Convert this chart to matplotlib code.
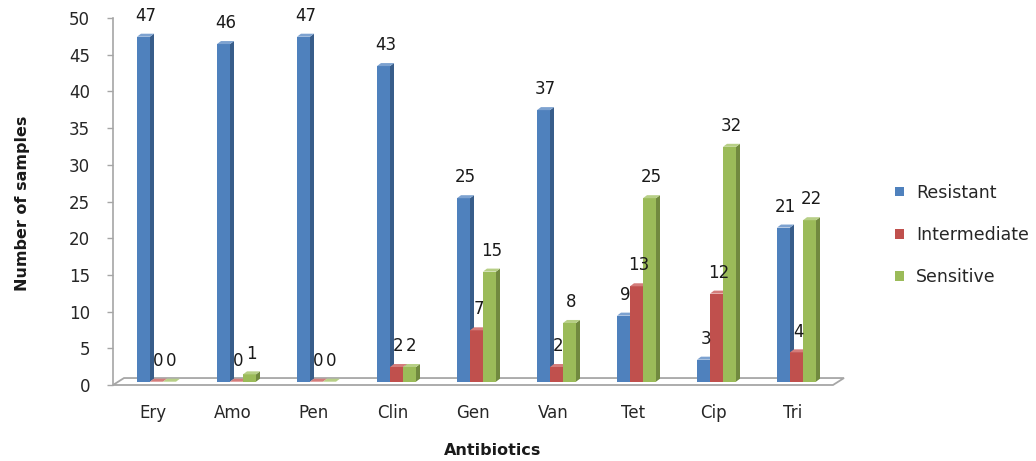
import matplotlib.pyplot as plt
from matplotlib.patches import Polygon, Patch

plt.rcParams['font.family'] = ['DejaVu Sans']

# antibiotic susceptibility counts
antibiotics = ['Ery', 'Amo', 'Pen', 'Clin', 'Gen', 'Van', 'Tet', 'Cip', 'Tri']
resistant = [47, 46, 47, 43, 25, 37, 9, 3, 21]
intermediate = [0, 0, 0, 2, 7, 2, 13, 12, 4]
sensitive = [0, 1, 0, 2, 15, 8, 25, 32, 22]
series_names = ['Resistant', 'Intermediate', 'Sensitive']

# (front, side, top) shades for the fake 3d columns
shades = [('#4F81BD', '#385D8A', '#7DA2D0'),
          ('#C0504D', '#8C3836', '#D47C7A'),
          ('#9BBB59', '#71893F', '#B7CF86')]

bar_w = 0.1625
lefts = [-0.2, -0.0375, 0.125]
dx, dy = 0.05, 0.41          # column depth
base = 0.45                  # columns stand in the middle of the floor
floor_dx, floor_dy = 0.1375, 0.95

fig = plt.figure(figsize=(10.36, 4.61), dpi=100)
ax = fig.add_axes([113 / 1036, 1 - 385 / 461, 720 / 1036, 367 / 461])
ax.set_xlim(-0.5, 8.5)
ax.set_ylim(0, 50)

# floor
floor = Polygon([(-0.5, 0), (-0.5 + floor_dx, floor_dy), (8.5 + floor_dx, floor_dy), (8.5, 0)],
                closed=True, facecolor='white', edgecolor='#A6A6A6', lw=1.3, clip_on=False, zorder=1)
ax.add_patch(floor)

for s, values in enumerate([resistant, intermediate, sensitive]):
    front, side, top = shades[s]
    for i, v in enumerate(values):
        x0 = i + lefts[s]
        x1 = x0 + bar_w
        y1 = base + v
        z = 2 + i * 3 + s
        ax.bar(x0, v, width=bar_w, bottom=base, align='edge', color=front, lw=0, zorder=z)
        ax.add_patch(Polygon([(x1, base), (x1 + dx, base + dy), (x1 + dx, y1 + dy), (x1, y1)],
                             closed=True, facecolor=side, lw=0, zorder=z))
        ax.add_patch(Polygon([(x0, y1), (x0 + dx, y1 + dy), (x1 + dx, y1 + dy), (x1, y1)],
                             closed=True, facecolor=top, lw=0, zorder=z))
        ax.annotate(str(v), (x0 + bar_w / 2 + dx / 2, y1), xytext=(0, 15), textcoords='offset points',
                    ha='center', va='center', fontsize=12, color='#1A1A1A', zorder=40)

for sp in ['top', 'right', 'bottom']:
    ax.spines[sp].set_visible(False)
ax.spines['left'].set_color('#A6A6A6')
ax.spines['left'].set_linewidth(1.2)

ax.set_yticks(range(0, 51, 5))
ax.tick_params(axis='y', length=4.5, width=1, color='#A6A6A6', pad=12, labelsize=12, labelcolor='#262626')
ax.set_xticks(range(len(antibiotics)))
ax.set_xticklabels(antibiotics)
ax.tick_params(axis='x', length=0, pad=14, labelsize=12, labelcolor='#262626')

fig.text(23 / 1036, 1 - 203 / 461, 'Number of samples', rotation=90, ha='center', va='center',
         fontsize=11.5, fontweight='bold', color='#1A1A1A')
fig.text(493 / 1036, 1 - 450 / 461, 'Antibiotics', ha='center', va='center',
         fontsize=11.5, fontweight='bold', color='#1A1A1A')

handles = [Patch(facecolor=shades[k][0], edgecolor='none') for k in range(3)]
fig.legend(handles, series_names, loc='center left', bbox_to_anchor=(895 / 1036, 1 - 235 / 461),
           frameon=False, fontsize=12.5, handlelength=0.5, handleheight=0.5, handletextpad=0.7,
           labelspacing=1.4, borderpad=0, borderaxespad=0, labelcolor='#262626')

fig.savefig('out.png', dpi=100, facecolor='white')
